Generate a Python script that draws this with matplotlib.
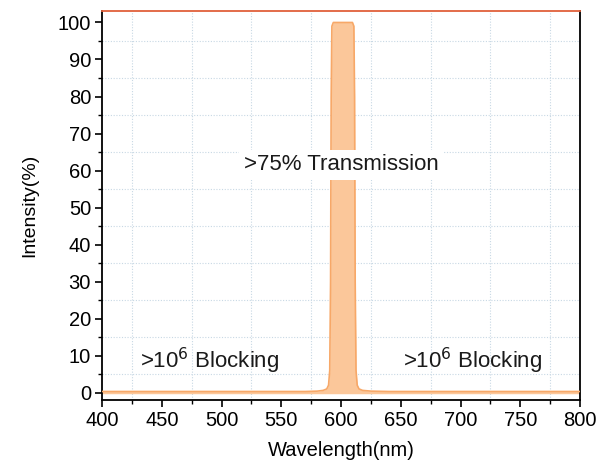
import matplotlib
matplotlib.use("Agg")
import matplotlib.pyplot as plt
from matplotlib.ticker import MultipleLocator

plt.rcParams['font.family'] = ['Liberation Sans', 'DejaVu Sans']

# Data
wavelength = [400, 570, 580, 585, 588, 589.5, 590.5, 591.2, 591.7, 592.3, 593.5, 609.5, 610.7, 611.3, 611.8, 612.5, 613.5, 615, 618, 625, 640, 800]
intensity = [0.3, 0.3, 0.4, 0.6, 1.0, 2.0, 6, 30, 80, 99, 100, 100, 99, 80, 30, 6, 2.0, 1.0, 0.6, 0.4, 0.3, 0.3]

x_ticks = [400, 450, 500, 550, 600, 650, 700, 750, 800]
y_ticks = [0, 10, 20, 30, 40, 50, 60, 70, 80, 90, 100]

fig = plt.figure(figsize=(6.08, 4.66), dpi=100)
ax = fig.add_axes([0.168, 0.1416, 0.786, 0.834])

ax.fill_between(wavelength, -0.3, intensity, color='#FBC79A', linewidth=0, zorder=2)
ax.plot(wavelength, intensity, color='#F7A868', linewidth=1.2, zorder=3)

ax.set_xlim(400, 800)
ax.set_ylim(-2, 103)
ax.set_xticks(x_ticks)
ax.set_yticks(y_ticks)
ax.xaxis.set_minor_locator(MultipleLocator(25))
ax.yaxis.set_minor_locator(MultipleLocator(5))
ax.grid(which='minor', color='#C8D8E4', linestyle=(0, (1, 1.5)), linewidth=0.8, zorder=0)
ax.set_axisbelow(True)

ax.tick_params(which='major', direction='out', length=5, width=1.2, labelsize=14.5, colors='black', pad=3)
ax.tick_params(which='minor', direction='out', length=3, width=1.0)
ax.tick_params(top=False, right=False, which='both')

for s in ['left', 'bottom', 'right']:
    ax.spines[s].set_color('black')
    ax.spines[s].set_linewidth(1.3)
ax.spines['top'].set_color('#E0603A')
ax.spines['top'].set_linewidth(1.3)

ax.set_xlabel('Wavelength(nm)', fontsize=14.5, labelpad=8)
ax.set_ylabel('Intensity(%)', fontsize=14, labelpad=14)

ax.text(600, 61.5, '>75% Transmission', fontsize=16, ha='center', va='center', color='#1a1a1a',
        bbox=dict(facecolor='white', edgecolor='none', pad=3), zorder=5)
ax.text(432, 8.5, r'>10$^{6}$ Blocking', fontsize=16, ha='left', va='center', color='#1a1a1a', zorder=5)
ax.text(652, 8.5, r'>10$^{6}$ Blocking', fontsize=16, ha='left', va='center', color='#1a1a1a', zorder=5)

fig.savefig('out.png', dpi=100)
